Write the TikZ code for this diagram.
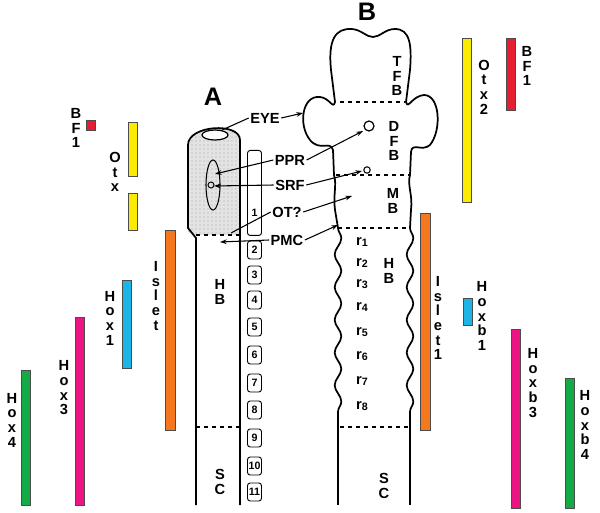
\documentclass[tikz,border=0pt]{standalone}
\usepackage{fontspec}
\setmainfont{Liberation Sans}
\usetikzlibrary{decorations.pathmorphing,arrows.meta,patterns}
\definecolor{cred}{RGB}{230,30,50}
\definecolor{cyel}{RGB}{250,235,0}
\definecolor{corg}{RGB}{245,120,30}
\definecolor{cblu}{RGB}{30,180,230}
\definecolor{cmag}{RGB}{235,20,130}
\definecolor{cgrn}{RGB}{20,170,70}
\begin{document}
\begin{tikzpicture}[x=0.75pt,y=-0.75pt,
  lab/.style={font=\bfseries\fontsize{11}{11.5}\selectfont,inner sep=1pt},
  stk/.style={lab,align=center,font=\bfseries\fontsize{11}{11}\selectfont},
  big/.style={font=\bfseries\fontsize{19}{19}\selectfont},
  bar/.style={draw=black!70,line width=0.5pt},
  wall/.style={line width=1.3pt},
  dsh/.style={dashed,line width=0.8pt},
  arr/.style={line width=0.8pt,-{Stealth[length=5pt,width=3.5pt]}},
  seg/.style={draw,rounded corners=2pt,line width=0.7pt,minimum width=14pt*0.75,minimum height=18pt*0.75,inner sep=0pt,font=\bfseries\fontsize{8}{8}\selectfont}]
\useasboundingbox (0,0) rectangle (600,513);
% ---------- bars left
\fill[cred,bar] (86,120) rectangle (95,130);
\node[stk] (lbf) at (76,128) {B\\F\\1};
\fill[cyel,bar] (128,122) rectangle (137,176);
\fill[cyel,bar] (128,193) rectangle (137,230);
\node[stk] (lotx) at (115,172) {O\\t\\x};
\fill[corg,bar] (165,230) rectangle (175,430);
\node[stk] (lisl) at (156,296) {I\\s\\l\\e\\t};
\fill[cblu,bar] (122,280) rectangle (131,368);
\node[stk] (lh1) at (110,318) {H\\o\\x\\1};
\fill[cmag,bar] (75,317) rectangle (84,505);
\node[stk] (lh3) at (64,388) {H\\o\\x\\3};
\fill[cgrn,bar] (21,370) rectangle (30,505);
\node[stk] (lh4) at (12,420) {H\\o\\x\\4};
% ---------- bars right
\fill[cyel,bar] (462,38) rectangle (471,202);
\node[stk] (rotx) at (484,87) {O\\t\\x\\2};
\fill[cred,bar] (506,38) rectangle (515,110);
\node[stk] (rbf) at (527,66) {B\\F\\1};
\fill[corg,bar] (420,213) rectangle (430,430);
\node[stk] (risl) at (438,318) {I\\s\\l\\e\\t\\1};
\fill[cblu,bar] (463,298) rectangle (472,325);
\node[stk] (rh1) at (482,316) {H\\o\\x\\b\\1};
\fill[cmag,bar] (511,329) rectangle (520,508);
\node[stk] (rh3) at (533,383) {H\\o\\x\\b\\3};
\fill[cgrn,bar] (565,378) rectangle (574,508);
\node[stk] (rh4) at (585,425) {H\\o\\x\\b\\4};
% ---------- embryo A
\node[big] (A) at (213,97) {A};
\fill[gray!22] (188,232) -- (188,145) .. controls (188,125) and (240,122) .. (240,140) -- (240,235) -- (196,235) -- cycle;
\fill[pattern=dots,pattern color=gray!70] (188,232) -- (188,145) .. controls (188,125) and (240,122) .. (240,140) -- (240,235) -- (196,235) -- cycle;
\draw[wall] (240,505) -- (240,140) .. controls (240,122) and (188,125) .. (188,145) -- (188,228) -- (196,238) -- (196,505);
\draw[line width=0.9pt,fill=white] (215,135) ellipse (13 and 5);
\draw[line width=0.8pt] (213,185) ellipse (7 and 25);
\draw[line width=0.7pt] (211,185) circle (3);
\draw[dsh] (196,235) -- (240,235);
\draw[dsh] (196,427) -- (240,427);
\node[seg,minimum height=85pt*0.75,anchor=north] (s1) at (254.5,150) {};
\node[font=\bfseries\fontsize{8}{8}\selectfont] at (254.5,213) {1};
\foreach \n/\y in {2/250,3/275,4/300,5/327,6/355,7/383,8/410,9/438,10/466,11/492}
  \node[seg] (s\n) at (254.5,\y) {\n};
\node[stk] (ahb) at (220,292) {H\\B};
\node[stk] (asc) at (220,482) {S\\C};
% ---------- embryo B
\node[big] (B) at (367,12) {B};
\draw[wall] (338,228) -- (335,210) .. controls (333,195) and (337,185) .. (334,175)
  -- (333,150) .. controls (330,140) and (320,152) .. (310,140)
  .. controls (298,125) and (302,95) .. (320,97)
  .. controls (330,98) and (333,110) .. (335,102)
  -- (331,70) .. controls (328,40) and (335,28) .. (352,29)
  .. controls (362,30) and (366,37) .. (373,37)
  .. controls (380,37) and (385,29) .. (395,29)
  .. controls (410,29) and (412,45) .. (410,70)
  -- (406,102) .. controls (408,110) and (412,96) .. (424,95)
  .. controls (440,95) and (442,130) .. (430,145)
  .. controls (422,152) and (412,142) .. (411,152)
  -- (410,175) .. controls (407,185) and (413,195) .. (411,210) -- (410,228);
\draw[wall,decorate,decoration={snake,segment length=24.5,amplitude=2.5}] (338,228) -- (338,424);
\draw[wall,decorate,decoration={snake,segment length=24.5,amplitude=2.5}] (410,228) -- (410,424);
\draw[wall] (338,424) -- (338,505);
\draw[wall] (410,424) -- (410,505);
\draw[dsh] (340,102) -- (405,102);
\draw[dsh] (336,175) -- (410,175);
\draw[dsh] (338,228) -- (410,228);
\draw[dsh] (340,427) -- (408,427);
\draw[line width=0.9pt] (369,126) circle (5);
\draw[line width=0.8pt] (367,170) circle (3.2);
\node[stk] (tfb) at (397,76) {T\\F\\B};
\node[stk] (dfb) at (394,141) {D\\F\\B};
\node[stk] (mb) at (393,201) {M\\B};
\node[stk] (bhb) at (389,271) {H\\B};
\node[stk] (bsc) at (384,486) {S\\C};
\foreach \i/\y in {1/242,2/263,3/284,4/307,5/332,6/356,7/381,8/406}
  \node[lab] (r\i) at (362,\y) {r\raisebox{-1pt}{\fontsize{8}{8}\selectfont\i}};
% ---------- callouts
\node[lab] (eye) at (265,118) {EYE};
\node[lab] (ppr) at (290,160) {PPR};
\node[lab] (srf) at (290,185) {SRF};
\node[lab] (ot) at (287,212) {OT?};
\node[lab] (pmc) at (287,240) {PMC};
\coordinate (aeye) at (222,130);
\coordinate (beye) at (303,113);
\coordinate (appr) at (215,174);
\coordinate (bppr) at (363,131);
\coordinate (asrf) at (214,186);
\coordinate (bsrf) at (362,171);
\coordinate (aot) at (231,233);
\coordinate (bot) at (352,196);
\coordinate (apmc) at (220,242);
\coordinate (bpmc) at (338,225);
\draw[line width=0.8pt] (eye.west) -- (aeye);
\draw[arr] (eye.east) -- (beye);
\draw[arr] (ppr.west) -- (appr);
\draw[arr] (ppr.east) -- (bppr);
\draw[arr] (srf.west) -- (asrf);
\draw[arr] (srf.east) -- (bsrf);
\draw[line width=0.8pt] (ot.west) -- (aot);
\draw[arr] (ot.east) -- (bot);
\draw[arr] (pmc.west) -- (apmc);
\draw[arr] (pmc.east) -- (bpmc);
\end{tikzpicture}
\end{document}
